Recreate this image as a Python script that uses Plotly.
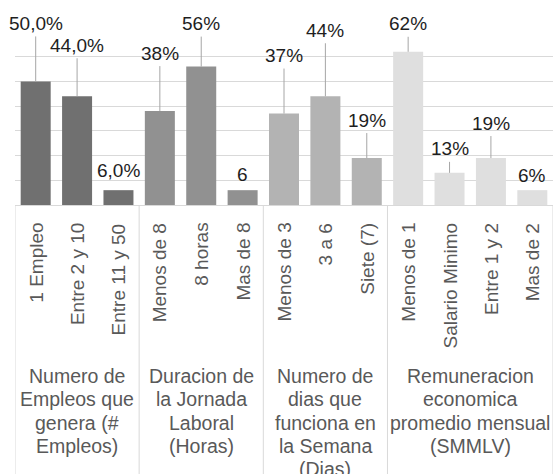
import plotly.graph_objects as go

# ---- data ----
groups = [
    "Numero de<br>Empleos que<br>genera (#<br>Empleos)",
    "Duracion de<br>la Jornada<br>Laboral<br>(Horas)",
    "Numero de<br>dias que<br>funciona en<br>la Semana<br>(Dias)",
    "Remuneracion<br>economica<br>promedio mensual<br>(SMMLV)",
]
group_categories = [
    ["1 Empleo", "Entre 2 y 10", "Entre 11 y 50"],
    ["Menos de 8", "8 horas", "Mas de 8"],
    ["Menos de 3", "3 a 6", "Siete (7)"],
    ["Menos de 1", "Salario Minimo", "Entre 1 y 2", "Mas de 2"],
]
group_values = [
    [50, 44, 6],
    [38, 56, 6],
    [37, 44, 19],
    [62, 13, 19, 6],
]
group_labels = [
    ["50,0%", "44,0%", "6,0%"],
    ["38%", "56%", "6"],
    ["37%", "44%", "19%"],
    ["62%", "13%", "19%", "6%"],
]

# ---- styles ----
group_colors = ["#707070", "#919191", "#b3b3b3", "#dfdfdf"]
label_offsets = [-58, -51, -20, -58, -43, -16, -58, -66, -38, -28, -24, -35, -15]
label_leader = [True, True, False, True, True, False, True, True, True, True, True, True, False]
FONT = "Liberation Sans, Arial, sans-serif"
GRID = "#d9d9d9"
CAT_SIZE = 19
GROUP_SIZE = 19.5
LINE_STEP = 23.3

categories, values, labels, colors = [], [], [], []
for g, cats in enumerate(group_categories):
    categories += cats
    values += group_values[g]
    labels += group_labels[g]
    colors += [group_colors[g]] * len(cats)

fig = go.Figure(go.Bar(x=categories, y=values, marker_color=colors,
                       marker_line_width=0, hoverinfo="skip"))

annotations = []
# data labels with leader lines
for i, (c, v, t) in enumerate(zip(categories, values, labels)):
    annotations.append(dict(
        x=c, y=v, xref="x", yref="y", text=t, showarrow=True,
        ax=0, ay=label_offsets[i], arrowhead=0, arrowwidth=1,
        arrowcolor="#a6a6a6" if label_leader[i] else "rgba(0,0,0,0)",
        borderpad=2,
        font=dict(family=FONT, size=19, color="#1e1e1e")))
# category labels (rotated)
for c in categories:
    annotations.append(dict(
        x=c, y=0, xref="x", yref="paper", text=c, showarrow=False,
        textangle=-90, xanchor="center", yanchor="top", yshift=-16,
        font=dict(family=FONT, size=CAT_SIZE, color="#595959")))
# group labels (one annotation per line) and dividers
shapes = []
start = 0
for g, cats in enumerate(group_categories):
    n = len(cats)
    center = start + (n - 1) / 2
    for k, line in enumerate(groups[g].split("<br>")):
        annotations.append(dict(
            x=center, y=0, xref="x", yref="paper", text=line, showarrow=False,
            xanchor="center", yanchor="middle", yshift=-(171 + k * LINE_STEP),
            font=dict(family=FONT, size=GROUP_SIZE, color="#595959")))
    shapes.append(dict(type="line", xref="x", yref="paper",
                       x0=start - 0.5, x1=start - 0.5, y0=0, y1=-2,
                       line=dict(color=GRID, width=1)))
    start += n
shapes.append(dict(type="line", xref="x", yref="paper",
                   x0=start - 0.5, x1=start - 0.5, y0=0, y1=-2,
                   line=dict(color=GRID, width=1)))

fig.update_layout(
    width=553, height=474,
    margin=dict(l=15, r=0, t=32, b=269),
    paper_bgcolor="white", plot_bgcolor="white",
    bargap=0.275, showlegend=False,
    annotations=annotations, shapes=shapes,
    font=dict(family=FONT, size=GROUP_SIZE, color="#595959"),
)
fig.update_xaxes(range=[-0.5, len(categories) - 0.5], autorange=False,
                 showticklabels=False, showline=True, linecolor=GRID, linewidth=1,
                 ticks="", showgrid=False)
fig.update_yaxes(range=[0, 70], autorange=False, dtick=10, showgrid=True,
                 gridcolor=GRID, gridwidth=1,
                 showticklabels=False, zeroline=False, showline=False, ticks="")

fig.write_html("out.html", config={"displayModeBar": False},
               post_script="document.body.style.margin='0';")
